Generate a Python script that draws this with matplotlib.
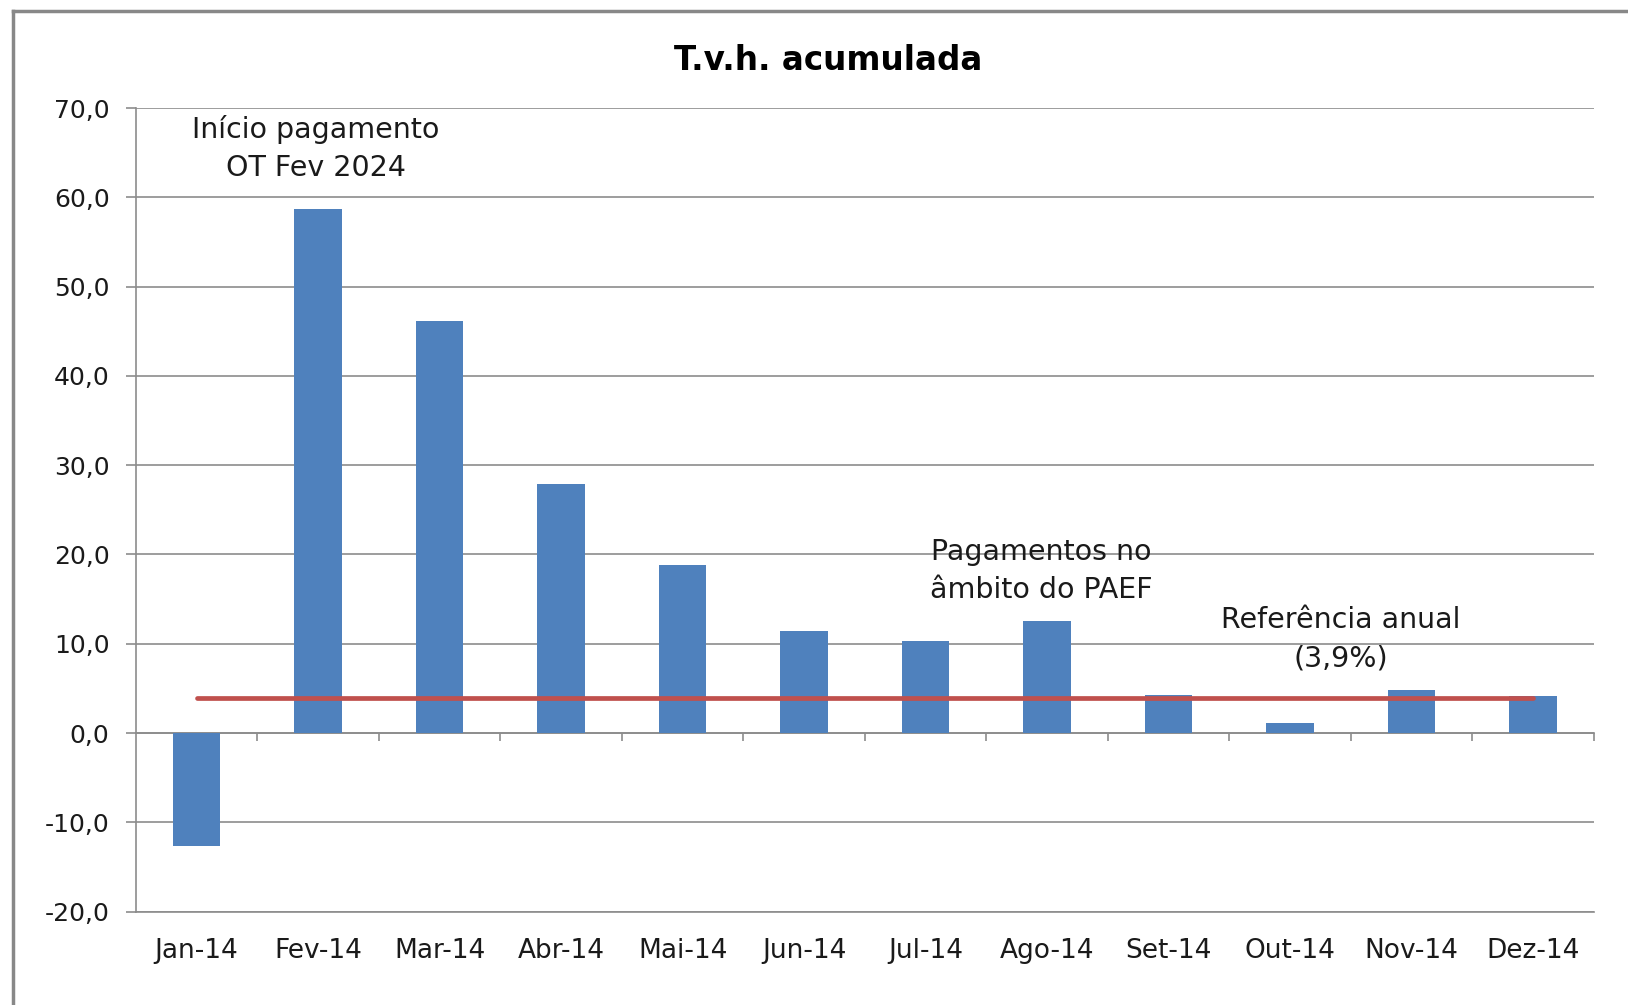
import matplotlib
matplotlib.use("Agg")
import matplotlib.pyplot as plt
from matplotlib.lines import Line2D
from matplotlib.ticker import FuncFormatter
import numpy as np

# data
months = ["Jan-14", "Fev-14", "Mar-14", "Abr-14", "Mai-14", "Jun-14",
          "Jul-14", "Ago-14", "Set-14", "Out-14", "Nov-14", "Dez-14"]
tvh = [-12.7, 58.7, 46.1, 27.9, 18.8, 11.4, 10.3, 12.5, 4.3, 1.1, 4.8, 4.1]
referencia = 3.9
y_ticks = [-20, -10, 0, 10, 20, 30, 40, 50, 60, 70]

bar_color = "#4F81BD"
line_color = "#C0504D"
grid_color = "#8c8c8c"

plt.rcParams["font.family"] = ["DejaVu Sans"]

fig = plt.figure(figsize=(16.28, 10.05), dpi=100)
ax = fig.add_axes([0.0835, 0.0929, 0.8955, 0.7996])

x = np.arange(len(months))
ax.bar(x, tvh, width=0.39, color=bar_color, zorder=3)
ax.plot([x[0], x[-1]], [referencia, referencia], color=line_color,
        lw=3.4, solid_capstyle="round", zorder=4)

ax.set_xlim(-0.5, len(months) - 0.5)
ax.set_ylim(-20, 70)
ax.set_yticks(y_ticks)
ax.yaxis.set_major_formatter(FuncFormatter(lambda v, p: ("%.1f" % v).replace(".", ",")))
ax.grid(axis="y", color=grid_color, lw=1.2, zorder=0)
ax.set_axisbelow(True)

for s in ["top", "right"]:
    ax.spines[s].set_visible(False)
ax.spines["left"].set_color(grid_color)
ax.spines["left"].set_linewidth(1.2)
ax.spines["bottom"].set_color(grid_color)
ax.spines["bottom"].set_linewidth(1.2)

ax.tick_params(axis="y", length=7, width=1.2, color=grid_color, pad=12,
               labelsize=18, labelcolor="#1a1a1a")
ax.set_xticks(x)
ax.set_xticklabels(months)
ax.tick_params(axis="x", length=0, pad=19, labelsize=19, labelcolor="#1a1a1a")

# category axis crossing at zero, with tick marks between categories
zero_pos = (0 - (-20)) / 90.0
sec = ax.secondary_xaxis(zero_pos)
sec.set_xticks(np.arange(0.5, len(months), 1.0))
sec.set_xticklabels([])
sec.tick_params(axis="x", direction="out", length=6, width=1.2,
                color=grid_color, labelsize=1)
sec.spines["bottom"].set_color(grid_color)
sec.spines["bottom"].set_linewidth(1.2)

# annotations
ax.text(0.98, 65.5, "Início pagamento\nOT Fev 2024", ha="center", va="center",
        fontsize=20.5, linespacing=1.45, color="#1a1a1a")
ax.text(6.95, 18.1, "Pagamentos no\nâmbito do PAEF", ha="center", va="center",
        fontsize=20.5, linespacing=1.45, color="#1a1a1a")
ax.text(9.42, 10.5, "Referência anual\n(3,9%)", ha="center", va="center",
        fontsize=20.5, linespacing=1.45, color="#1a1a1a")

fig.text(0.509, 0.940, "T.v.h. acumulada", ha="center", va="center",
         fontsize=23.5, fontweight="bold", color="#000000")

# outer chart frame (cut at right and bottom edges)
bx = 13 / 1628
by = 1 - 11 / 1005
fig.add_artist(Line2D([bx, bx], [0, by], transform=fig.transFigure,
                      color="#888888", lw=2.5))
fig.add_artist(Line2D([bx, 1], [by, by], transform=fig.transFigure,
                      color="#888888", lw=2.5))

fig.savefig("out.png", dpi=100, facecolor="white")
